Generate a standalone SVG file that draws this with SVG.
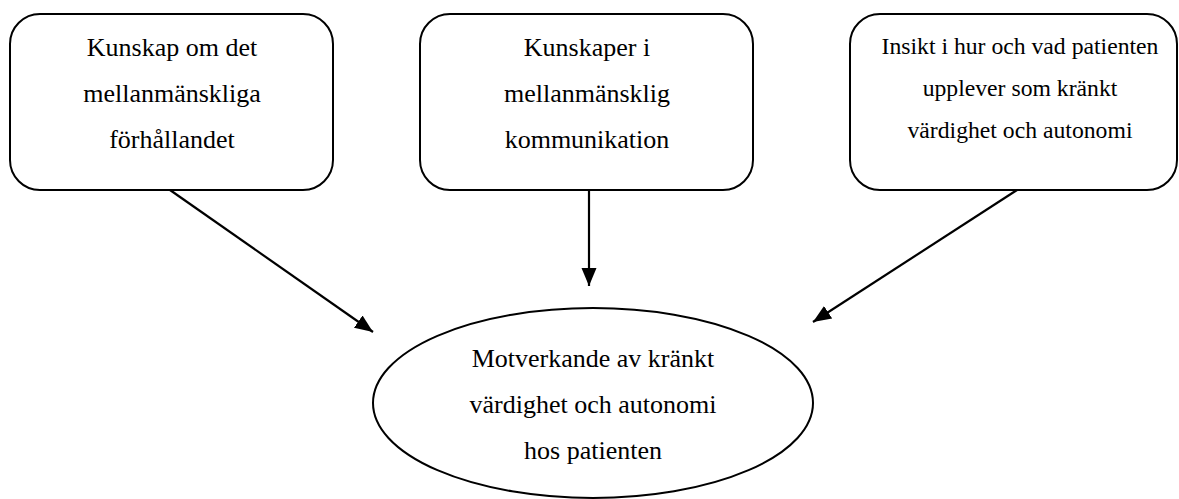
<svg xmlns="http://www.w3.org/2000/svg" width="1179" height="499" viewBox="0 0 1179 499">
<style>
.box{fill:#fff;stroke:#000;stroke-width:2}
text{font-family:'Liberation Serif','Times New Roman',serif;font-size:26px;fill:#000;text-anchor:middle}
.ts{font-size:23.7px}
.c{stroke:#000;stroke-width:2.2;fill:none;marker-end:url(#ah)}
</style>
<defs>
<marker id="ah" markerUnits="userSpaceOnUse" markerWidth="20" markerHeight="18" refX="18" refY="9" orient="auto">
<path d="M0,1.5 L18,9 L0,16.5 Z" fill="#000"/>
</marker>
</defs>
<rect width="1179" height="499" fill="#fff"/>
<g id="n1">
<rect class="box" x="10" y="14" width="323" height="176" rx="30" ry="30"/>
<text x="172" y="56">Kunskap om det</text>
<text x="172" y="102">mellanmänskliga</text>
<text x="172" y="148">förhållandet</text>
</g>
<g id="n2">
<rect class="box" x="420" y="14" width="333" height="176" rx="30" ry="30"/>
<text x="587" y="56">Kunskaper i</text>
<text x="587" y="102">mellanmänsklig</text>
<text x="587" y="148">kommunikation</text>
</g>
<g id="n3">
<rect class="box" x="850" y="14" width="327" height="176" rx="30" ry="30"/>
<text class="ts" x="1020" y="54">Insikt i hur och vad patienten</text>
<text class="ts" x="1020" y="96">upplever som kränkt</text>
<text class="ts" x="1020" y="138">värdighet och autonomi</text>
</g>
<g id="n4">
<ellipse class="box" cx="593" cy="403" rx="220" ry="95"/>
<text x="593" y="367">Motverkande av kränkt</text>
<text x="593" y="413">värdighet och autonomi</text>
<text x="593" y="459">hos patienten</text>
</g>
<g id="connectors">
<line class="c" x1="170" y1="190" x2="373" y2="332"/>
<line class="c" x1="589" y1="190" x2="589" y2="286"/>
<line class="c" x1="1017" y1="190" x2="813" y2="322"/>
</g>
</svg>
